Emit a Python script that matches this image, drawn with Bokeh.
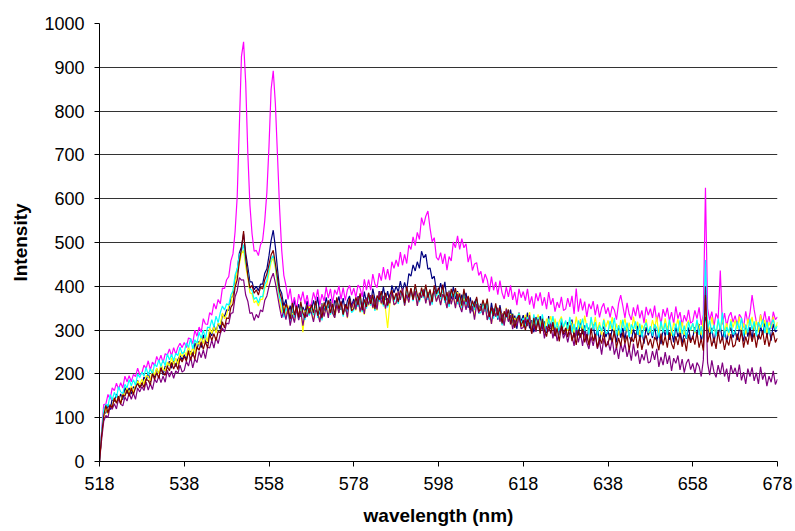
from bokeh.plotting import figure
from bokeh.models import Range1d, FixedTicker
from bokeh.embed import file_html
from bokeh.resources import INLINE

# wavelength sampling grid (nm), 0.5 nm steps from 518 to 678
wavelength = [518 + 0.5 * i for i in range(321)]

magenta = [
    0, 70, 130, 131, 153, 142, 168, 162, 179, 165, 180, 168, 195, 182, 196, 182, 199, 194, 213, 198,
    202, 220, 212, 230, 209, 227, 219, 240, 228, 243, 225, 246, 243, 257, 241, 260, 245, 261, 270, 260,
    272, 260, 282, 280, 269, 300, 286, 307, 295, 326, 314, 313, 340, 334, 361, 348, 370, 360, 396, 395,
    415, 422, 458, 474, 525, 605, 765, 925, 958, 865, 705, 585, 520, 480, 482, 470, 495, 505, 550, 615,
    720, 850, 892, 818, 700, 578, 482, 425, 402, 370, 395, 357, 375, 347, 382, 366, 388, 359, 380, 353,
    360, 386, 368, 393, 357, 382, 366, 398, 373, 394, 361, 392, 381, 401, 370, 397, 368, 392, 402, 380,
    396, 375, 403, 396, 376, 416, 391, 415, 391, 428, 405, 397, 430, 413, 444, 416, 439, 414, 456, 441,
    460, 445, 478, 448, 473, 452, 494, 484, 513, 493, 523, 507, 557, 539, 560, 572, 533, 502, 511, 466,
    460, 477, 451, 474, 437, 468, 458, 501, 488, 515, 484, 509, 488, 497, 455, 473, 436, 451, 454, 425,
    434, 407, 428, 415, 388, 422, 391, 410, 381, 413, 385, 371, 398, 376, 402, 369, 387, 357, 394, 374,
    388, 367, 394, 358, 377, 349, 384, 366, 386, 356, 375, 348, 387, 358, 373, 342, 364, 351, 376, 345,
    348, 373, 353, 378, 337, 395, 342, 372, 345, 365, 330, 360, 348, 366, 334, 359, 329, 351, 361, 337,
    352, 329, 355, 346, 324, 361, 380, 355, 328, 362, 336, 323, 352, 332, 358, 327, 345, 316, 353, 334,
    349, 328, 356, 320, 340, 313, 348, 331, 351, 321, 341, 314, 354, 326, 341, 311, 334, 320, 346, 316,
    320, 345, 326, 352, 312, 336, 625, 349, 323, 342, 308, 338, 326, 436, 313, 339, 309, 331, 341, 318,
    333, 311, 336, 328, 306, 343, 316, 338, 380, 346, 319, 307, 336, 316, 343, 312, 332, 303, 342, 324,
    330,
]

navy = [
    0, 62, 110, 111, 130, 118, 143, 137, 154, 139, 154, 141, 169, 155, 168, 154, 171, 166, 185, 170,
    175, 193, 185, 203, 182, 200, 192, 212, 200, 215, 197, 218, 215, 229, 213, 232, 217, 233, 242, 232,
    244, 232, 253, 251, 240, 271, 256, 275, 260, 289, 274, 271, 296, 287, 311, 296, 315, 302, 336, 331,
    346, 345, 371, 380, 415, 436, 476, 490, 520, 476, 444, 410, 410, 392, 400, 390, 405, 405, 430, 440,
    470, 505, 528, 490, 440, 395, 384, 355, 370, 337, 356, 330, 370, 343, 359, 330, 353, 341, 367, 338,
    342, 368, 349, 376, 336, 361, 344, 375, 350, 371, 337, 368, 358, 377, 346, 373, 343, 367, 378, 355,
    371, 350, 377, 370, 349, 388, 362, 385, 359, 395, 370, 359, 389, 370, 399, 369, 389, 362, 402, 385,
    400, 387, 412, 388, 409, 392, 429, 423, 449, 435, 456, 441, 480, 465, 473, 439, 442, 417, 423, 389,
    385, 407, 386, 410, 368, 390, 370, 399, 371, 389, 353, 381, 368, 385, 351, 375, 343, 364, 372, 347,
    360, 336, 360, 350, 326, 362, 333, 353, 324, 357, 329, 315, 342, 321, 347, 315, 333, 303, 340, 320,
    334, 313, 340, 304, 323, 295, 330, 312, 332, 301, 320, 293, 332, 303, 318, 287, 309, 295, 321, 290,
    294, 318, 298, 324, 283, 306, 288, 318, 291, 311, 276, 306, 294, 313, 280, 306, 275, 298, 308, 284,
    299, 277, 303, 294, 272, 310, 283, 305, 278, 312, 286, 274, 303, 283, 310, 279, 298, 269, 307, 288,
    302, 282, 310, 275, 295, 268, 304, 287, 308, 278, 298, 272, 312, 284, 300, 270, 293, 280, 306, 276,
    282, 307, 288, 314, 274, 298, 330, 311, 285, 305, 271, 301, 290, 309, 277, 303, 273, 296, 306, 283,
    299, 277, 303, 295, 274, 312, 285, 307, 280, 316, 291, 279, 309, 290, 317, 286, 305, 276, 314, 296,
    300,
]

yellow = [
    0, 58, 100, 125, 109, 129, 123, 145, 134, 150, 133, 155, 153, 168, 153, 172, 157, 174, 184, 175,
    188, 177, 196, 194, 184, 210, 197, 213, 200, 224, 211, 207, 227, 218, 237, 222, 236, 222, 248, 239,
    252, 241, 264, 243, 261, 246, 275, 267, 286, 269, 287, 273, 306, 292, 308, 293, 315, 313, 339, 326,
    335, 355, 360, 390, 405, 440, 450, 475, 482, 445, 420, 385, 383, 362, 367, 355, 370, 370, 396, 405,
    430, 455, 465, 440, 400, 368, 340, 355, 332, 356, 315, 339, 321, 353, 327, 348, 295, 345, 334, 354,
    344, 323, 349, 342, 321, 359, 333, 356, 329, 365, 340, 328, 358, 339, 366, 336, 356, 327, 366, 348,
    364, 345, 374, 340, 361, 335, 372, 356, 378, 349, 370, 345, 386, 359, 376, 347, 305, 359, 386, 357,
    362, 388, 369, 396, 356, 381, 363, 395, 369, 389, 356, 386, 375, 394, 362, 388, 358, 380, 390, 367,
    381, 358, 383, 374, 351, 388, 360, 381, 353, 387, 360, 346, 373, 351, 376, 343, 360, 329, 365, 344,
    357, 335, 361, 324, 342, 314, 349, 331, 351, 320, 339, 312, 351, 322, 337, 306, 328, 314, 339, 308,
    311, 335, 316, 341, 301, 325, 307, 336, 310, 329, 296, 326, 314, 332, 301, 326, 297, 320, 331, 306,
    320, 298, 323, 316, 294, 331, 303, 325, 298, 333, 307, 294, 323, 303, 330, 299, 318, 289, 326, 307,
    322, 302, 330, 295, 315, 288, 323, 306, 327, 297, 317, 291, 331, 303, 319, 289, 312, 299, 325, 294,
    298, 323, 304, 330, 290, 314, 296, 327, 301, 321, 287, 317, 306, 325, 293, 319, 289, 312, 322, 299,
    315, 293, 319, 311, 289, 327, 340, 322, 295, 330, 304, 292, 321, 301, 328, 297, 316, 287, 325, 306,
    322, 302, 331, 296, 316, 290, 326, 309, 330, 300, 321, 295, 335, 307, 323, 293, 318, 305, 331, 301,
    318,
]

cyan = [
    0, 66, 118, 131, 126, 153, 141, 158, 146, 171, 159, 155, 176, 168, 187, 173, 187, 174, 200, 192,
    204, 195, 215, 197, 212, 199, 223, 216, 232, 217, 232, 219, 246, 232, 245, 230, 247, 242, 261, 246,
    250, 271, 260, 281, 257, 278, 270, 295, 281, 300, 281, 307, 305, 324, 307, 332, 317, 340, 355, 346,
    360, 357, 380, 390, 426, 440, 472, 480, 495, 455, 430, 395, 390, 370, 375, 362, 377, 376, 404, 414,
    440, 462, 470, 448, 410, 375, 361, 329, 350, 340, 317, 355, 328, 351, 324, 360, 334, 323, 352, 333,
    353, 334, 362, 328, 349, 322, 359, 343, 364, 335, 356, 330, 371, 344, 360, 331, 355, 342, 369, 340,
    345, 371, 353, 380, 341, 366, 349, 381, 356, 377, 344, 375, 365, 385, 354, 381, 352, 376, 387, 365,
    381, 360, 386, 379, 358, 396, 370, 392, 366, 401, 376, 364, 393, 373, 400, 369, 388, 358, 396, 377,
    391, 370, 398, 362, 381, 353, 388, 370, 390, 359, 378, 350, 388, 358, 372, 340, 361, 346, 370, 338,
    340, 363, 342, 366, 324, 346, 326, 355, 327, 346, 311, 340, 328, 346, 313, 338, 307, 329, 338, 314,
    328, 305, 330, 321, 298, 336, 308, 329, 302, 336, 310, 297, 326, 305, 332, 300, 319, 289, 327, 307,
    322, 302, 330, 294, 314, 287, 322, 305, 326, 296, 316, 290, 330, 302, 318, 288, 311, 297, 323, 292,
    296, 321, 302, 328, 288, 311, 293, 324, 298, 317, 284, 313, 302, 320, 289, 315, 284, 307, 317, 294,
    309, 287, 313, 305, 283, 321, 294, 316, 289, 324, 298, 286, 315, 295, 322, 291, 310, 281, 319, 300,
    316, 296, 324, 289, 309, 282, 460, 301, 322, 292, 312, 286, 326, 298, 340, 284, 307, 294, 320, 290,
    295, 320, 301, 328, 287, 312, 295, 326, 301, 320, 287, 318, 306, 324, 293, 319, 291, 314, 324, 301,
    310,
]

purple = [
    0, 50, 92, 105, 100, 127, 119, 132, 120, 144, 131, 127, 147, 138, 157, 142, 156, 142, 168, 159,
    171, 162, 182, 163, 178, 164, 188, 180, 196, 180, 195, 181, 208, 193, 206, 190, 207, 201, 220, 204,
    208, 229, 218, 239, 214, 234, 226, 251, 237, 255, 235, 261, 259, 277, 259, 284, 269, 291, 305, 296,
    316, 314, 338, 340, 376, 390, 420, 414, 415, 380, 366, 338, 340, 322, 336, 328, 346, 342, 368, 378,
    400, 418, 430, 408, 380, 352, 328, 345, 324, 350, 310, 335, 317, 349, 323, 344, 310, 341, 330, 350,
    340, 319, 346, 339, 318, 357, 331, 354, 328, 364, 339, 328, 358, 339, 367, 337, 357, 329, 368, 350,
    366, 347, 376, 342, 363, 337, 374, 358, 380, 351, 372, 347, 388, 361, 378, 349, 373, 361, 387, 358,
    362, 388, 369, 396, 356, 381, 363, 394, 369, 389, 355, 385, 374, 393, 361, 387, 356, 379, 389, 365,
    380, 357, 382, 373, 350, 387, 359, 379, 350, 383, 355, 341, 368, 346, 371, 338, 355, 324, 360, 339,
    356, 334, 360, 323, 342, 314, 349, 331, 351, 319, 338, 310, 349, 319, 334, 302, 324, 309, 334, 303,
    306, 329, 309, 334, 292, 315, 296, 325, 298, 316, 281, 309, 297, 315, 281, 306, 275, 296, 305, 281,
    295, 272, 296, 287, 264, 300, 272, 293, 264, 298, 271, 257, 285, 264, 289, 257, 275, 244, 281, 261,
    275, 253, 280, 244, 262, 234, 269, 250, 270, 239, 258, 230, 269, 240, 254, 223, 245, 231, 256, 225,
    228, 252, 232, 257, 216, 239, 220, 250, 223, 242, 207, 236, 224, 242, 209, 234, 203, 225, 234, 210,
    224, 201, 226, 217, 194, 232, 400, 225, 197, 231, 205, 192, 220, 199, 226, 194, 212, 182, 220, 200,
    214, 193, 221, 185, 204, 177, 212, 194, 215, 184, 203, 177, 216, 187, 203, 172, 195, 181, 207, 176,
    188,
]

maroon = [
    0, 60, 104, 128, 111, 130, 123, 145, 133, 149, 131, 152, 149, 164, 149, 168, 153, 169, 178, 168,
    180, 169, 188, 185, 175, 201, 187, 203, 190, 214, 201, 197, 217, 207, 226, 211, 224, 210, 236, 227,
    240, 229, 252, 231, 249, 233, 262, 254, 273, 256, 274, 259, 291, 276, 292, 276, 297, 294, 319, 305,
    328, 326, 352, 360, 398, 415, 456, 486, 526, 465, 425, 396, 402, 384, 392, 380, 398, 394, 415, 428,
    450, 472, 482, 452, 420, 388, 371, 339, 360, 349, 325, 362, 334, 356, 329, 365, 339, 328, 357, 338,
    358, 339, 367, 333, 353, 327, 363, 347, 368, 339, 360, 334, 375, 348, 364, 335, 359, 347, 373, 344,
    349, 375, 357, 384, 345, 370, 353, 385, 360, 381, 348, 379, 369, 389, 358, 385, 356, 380, 391, 369,
    385, 364, 390, 383, 362, 400, 374, 396, 370, 405, 380, 368, 397, 377, 404, 374, 393, 364, 402, 382,
    397, 376, 404, 368, 387, 359, 394, 376, 396, 365, 384, 356, 394, 364, 378, 346, 367, 352, 376, 344,
    346, 369, 348, 372, 330, 352, 332, 361, 333, 351, 315, 343, 330, 347, 313, 337, 305, 326, 334, 309,
    323, 300, 324, 315, 292, 328, 300, 321, 292, 326, 299, 285, 313, 292, 318, 286, 304, 274, 311, 291,
    305, 284, 311, 275, 294, 266, 301, 283, 303, 272, 291, 265, 304, 275, 291, 260, 283, 269, 295, 264,
    268, 293, 273, 299, 259, 282, 264, 295, 269, 288, 254, 284, 273, 292, 259, 285, 255, 278, 288, 265,
    280, 258, 284, 276, 254, 292, 265, 287, 260, 295, 269, 257, 286, 266, 293, 262, 281, 252, 290, 271,
    287, 267, 295, 260, 280, 253, 380, 272, 293, 263, 283, 257, 297, 269, 285, 255, 278, 265, 291, 261,
    266, 292, 273, 300, 260, 285, 267, 299, 273, 293, 260, 290, 279, 298, 266, 292, 262, 285, 295, 272,
    282,
]

x_ticks = [518, 538, 558, 578, 598, 618, 638, 658, 678]
y_ticks = [0, 100, 200, 300, 400, 500, 600, 700, 800, 900, 1000]
x_title = "wavelength (nm)"
y_title = "Intensity"

series = [
    (navy, "#000080"),
    (magenta, "#FF00FF"),
    (yellow, "#FFFF00"),
    (cyan, "#00FFFF"),
    (purple, "#800080"),
    (maroon, "#800000"),
]

W, H = 795, 531
p = figure(width=W, height=H, output_backend="svg", toolbar_location=None,
           x_range=Range1d(518, 678), y_range=Range1d(0, 1000),
           min_border_left=99, min_border_right=W - 777, min_border_top=23,
           min_border_bottom=H - 461)

p.outline_line_color = None
p.background_fill_color = "white"
p.border_fill_color = "white"

for vals, col in series:
    p.line(wavelength, vals, line_color=col, line_width=1.2)

p.xgrid.visible = False
p.ygrid.ticker = FixedTicker(ticks=y_ticks)
p.ygrid.grid_line_color = "#333333"
p.ygrid.grid_line_width = 1

p.xaxis.ticker = FixedTicker(ticks=x_ticks)
p.yaxis.ticker = FixedTicker(ticks=y_ticks)
for ax in (p.xaxis, p.yaxis):
    ax.axis_line_color = "black"
    ax.major_tick_line_color = "black"
    ax.minor_tick_line_color = None
    ax.major_tick_in = 0
    ax.major_tick_out = 5
    ax.major_label_text_font = "Liberation Sans"
    ax.major_label_text_font_size = "18px"
    ax.major_label_text_color = "black"
    ax.axis_label_text_font = "Liberation Sans"
    ax.axis_label_text_font_size = "19px"
    ax.axis_label_text_font_style = "bold"
    ax.axis_label_text_color = "black"

p.xaxis.axis_label = x_title
p.yaxis.axis_label = y_title
p.xaxis.major_label_standoff = 10
p.yaxis.major_label_standoff = 10
p.xaxis.axis_label_standoff = 12
p.yaxis.axis_label_standoff = 10

open("out.html", "w").write(file_html(p, INLINE))
